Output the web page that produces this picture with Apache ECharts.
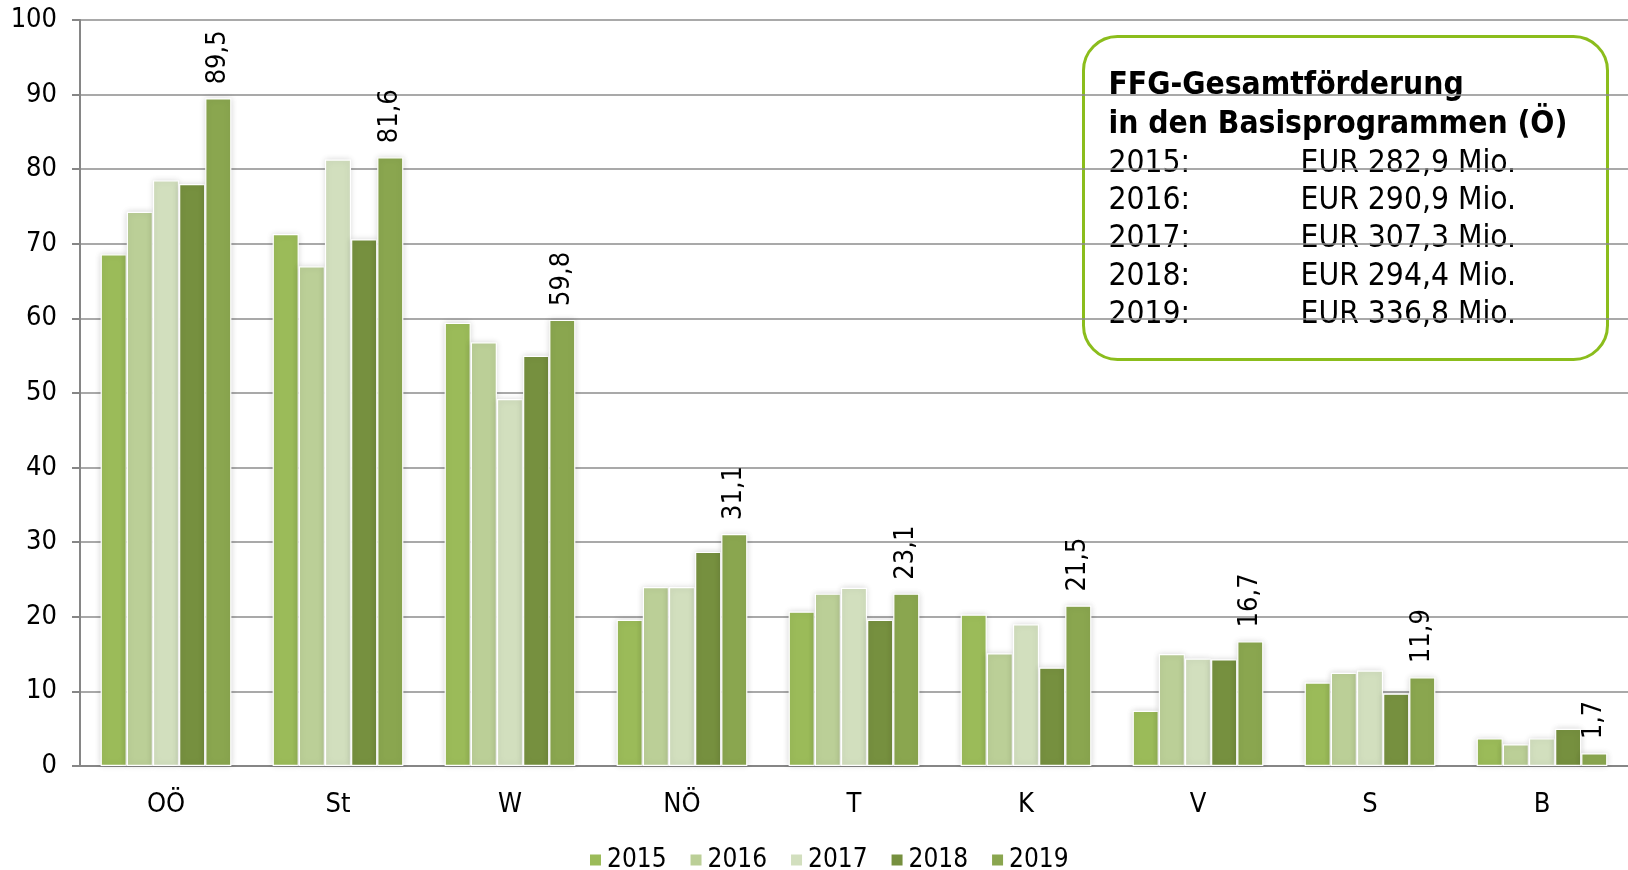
<!DOCTYPE html>
<html>
<head>
<meta charset="utf-8">
<script src="https://cdn.jsdelivr.net/npm/echarts@6/dist/echarts.min.js"></script>
<style>
  html, body { margin: 0; padding: 0; background: #fff; }
  #chart { width: 1628px; height: 870px; }
</style>
</head>
<body>
<div id="chart"></div>
<script>
// Bundesländer
var categories = ["OÖ", "St", "W", "NÖ", "T", "K", "V", "S", "B"];
var years = ["2015", "2016", "2017", "2018", "2019"];

// Förderung in Mio. EUR, je Jahr
var v2015 = [68.6, 71.3, 59.4, 19.6, 20.7, 20.3, 7.4, 11.2, 3.7];
var v2016 = [74.3, 67.0, 56.8, 24.0, 23.1, 15.1, 15.0, 12.5, 2.9];
var v2017 = [78.5, 81.3, 49.2, 24.0, 23.9, 19.0, 14.4, 12.8, 3.7];
var v2018 = [78.0, 70.6, 55.0, 28.7, 19.6, 13.2, 14.3, 9.7, 5.0];
var v2019 = [89.5, 81.6, 59.8, 31.1, 23.1, 21.5, 16.7, 11.9, 1.7];

// Gesamtförderung Österreich
var totals = ["282,9", "290,9", "307,3", "294,4", "336,8"];

var yTicks = [0, 10, 20, 30, 40, 50, 60, 70, 80, 90, 100];

var colors = ["#9bbb59", "#bbcf97", "#d2dfbe", "#76903f", "#8aa64f"];
var font = "'DejaVu Sans Condensed', 'DejaVu Sans', sans-serif";

var chart = echarts.init(document.getElementById("chart"));

function makeSeries(name, data, idx) {
  var s = {
    name: name,
    type: "bar",
    data: data,
    barGap: "0%",
    barCategoryGap: "24%",
    itemStyle: {
      color: colors[idx],
      borderColor: "#fff",
      borderWidth: 1.2,
      shadowBlur: 6,
      shadowColor: "rgba(0,0,0,0.15)"
    }
  };
  if (idx === 4) {
    s.label = {
      show: true,
      position: "top",
      rotate: 90,
      align: "left",
      verticalAlign: "middle",
      distance: 14,
      color: "#000",
      fontFamily: font,
      fontSize: 27,
      formatter: function (p) {
        return String(p.value).replace(".", ",");
      }
    };
  }
  return s;
}

var allValues = [v2015, v2016, v2017, v2018, v2019];
var series = years.map(function (y, i) {
  return makeSeries(y, allValues[i], i);
});

var boxYears = years.map(function (y) { return y + ":"; }).join("\n");
var boxValues = totals.map(function (t) { return "EUR " + t + " Mio."; }).join("\n");

chart.setOption({
  backgroundColor: "#fff",
  animation: false,
  color: colors,
  grid: {
    left: 80,
    right: 0,
    top: 20,
    bottom: 104
  },
  legend: {
    data: years,
    left: 583,
    top: 842,
    icon: "rect",
    itemWidth: 13,
    itemHeight: 13,
    itemGap: 22,
    textStyle: {
      fontFamily: font,
      fontSize: 26,
      color: "#000"
    }
  },
  xAxis: {
    type: "category",
    data: categories,
    axisLine: { lineStyle: { color: "#868686", width: 2 } },
    axisTick: { length: 8, lineStyle: { color: "#868686", width: 2 } },
    axisLabel: {
      margin: 25,
      color: "#000",
      fontFamily: font,
      fontSize: 27
    }
  },
  yAxis: {
    type: "value",
    min: yTicks[0],
    max: yTicks[yTicks.length - 1],
    interval: 10,
    axisLine: { show: true, lineStyle: { color: "#868686", width: 2 } },
    axisTick: { show: true, length: 8, lineStyle: { color: "#868686", width: 2 } },
    splitLine: { lineStyle: { color: "#8c8c8c", width: 1.5 } },
    axisLabel: {
      margin: 23,
      color: "#000",
      fontFamily: font,
      fontSize: 27
    }
  },
  series: series,
  graphic: [
    {
      type: "group",
      left: 1082,
      top: 35,
      children: [
        {
          type: "rect",
          shape: { x: 0, y: 0, width: 524, height: 323, r: 34 },
          style: { fill: "#fff", stroke: "#8bbd1c", lineWidth: 3 }
        },
        {
          type: "text",
          x: 25,
          y: 30,
          style: {
            text: "FFG-Gesamtförderung\nin den Basisprogrammen (Ö)",
            fontFamily: font,
            fontWeight: "bold",
            fontSize: 31.5,
            lineHeight: 39,
            fill: "#000"
          }
        },
        {
          type: "text",
          x: 25,
          y: 108,
          style: {
            text: boxYears,
            fontFamily: font,
            fontSize: 31.5,
            lineHeight: 37.8,
            fill: "#000"
          }
        },
        {
          type: "text",
          x: 217,
          y: 108,
          style: {
            text: boxValues,
            fontFamily: font,
            fontSize: 31.5,
            lineHeight: 37.8,
            fill: "#000"
          }
        }
      ]
    }
  ]
});
</script>
</body>
</html>
